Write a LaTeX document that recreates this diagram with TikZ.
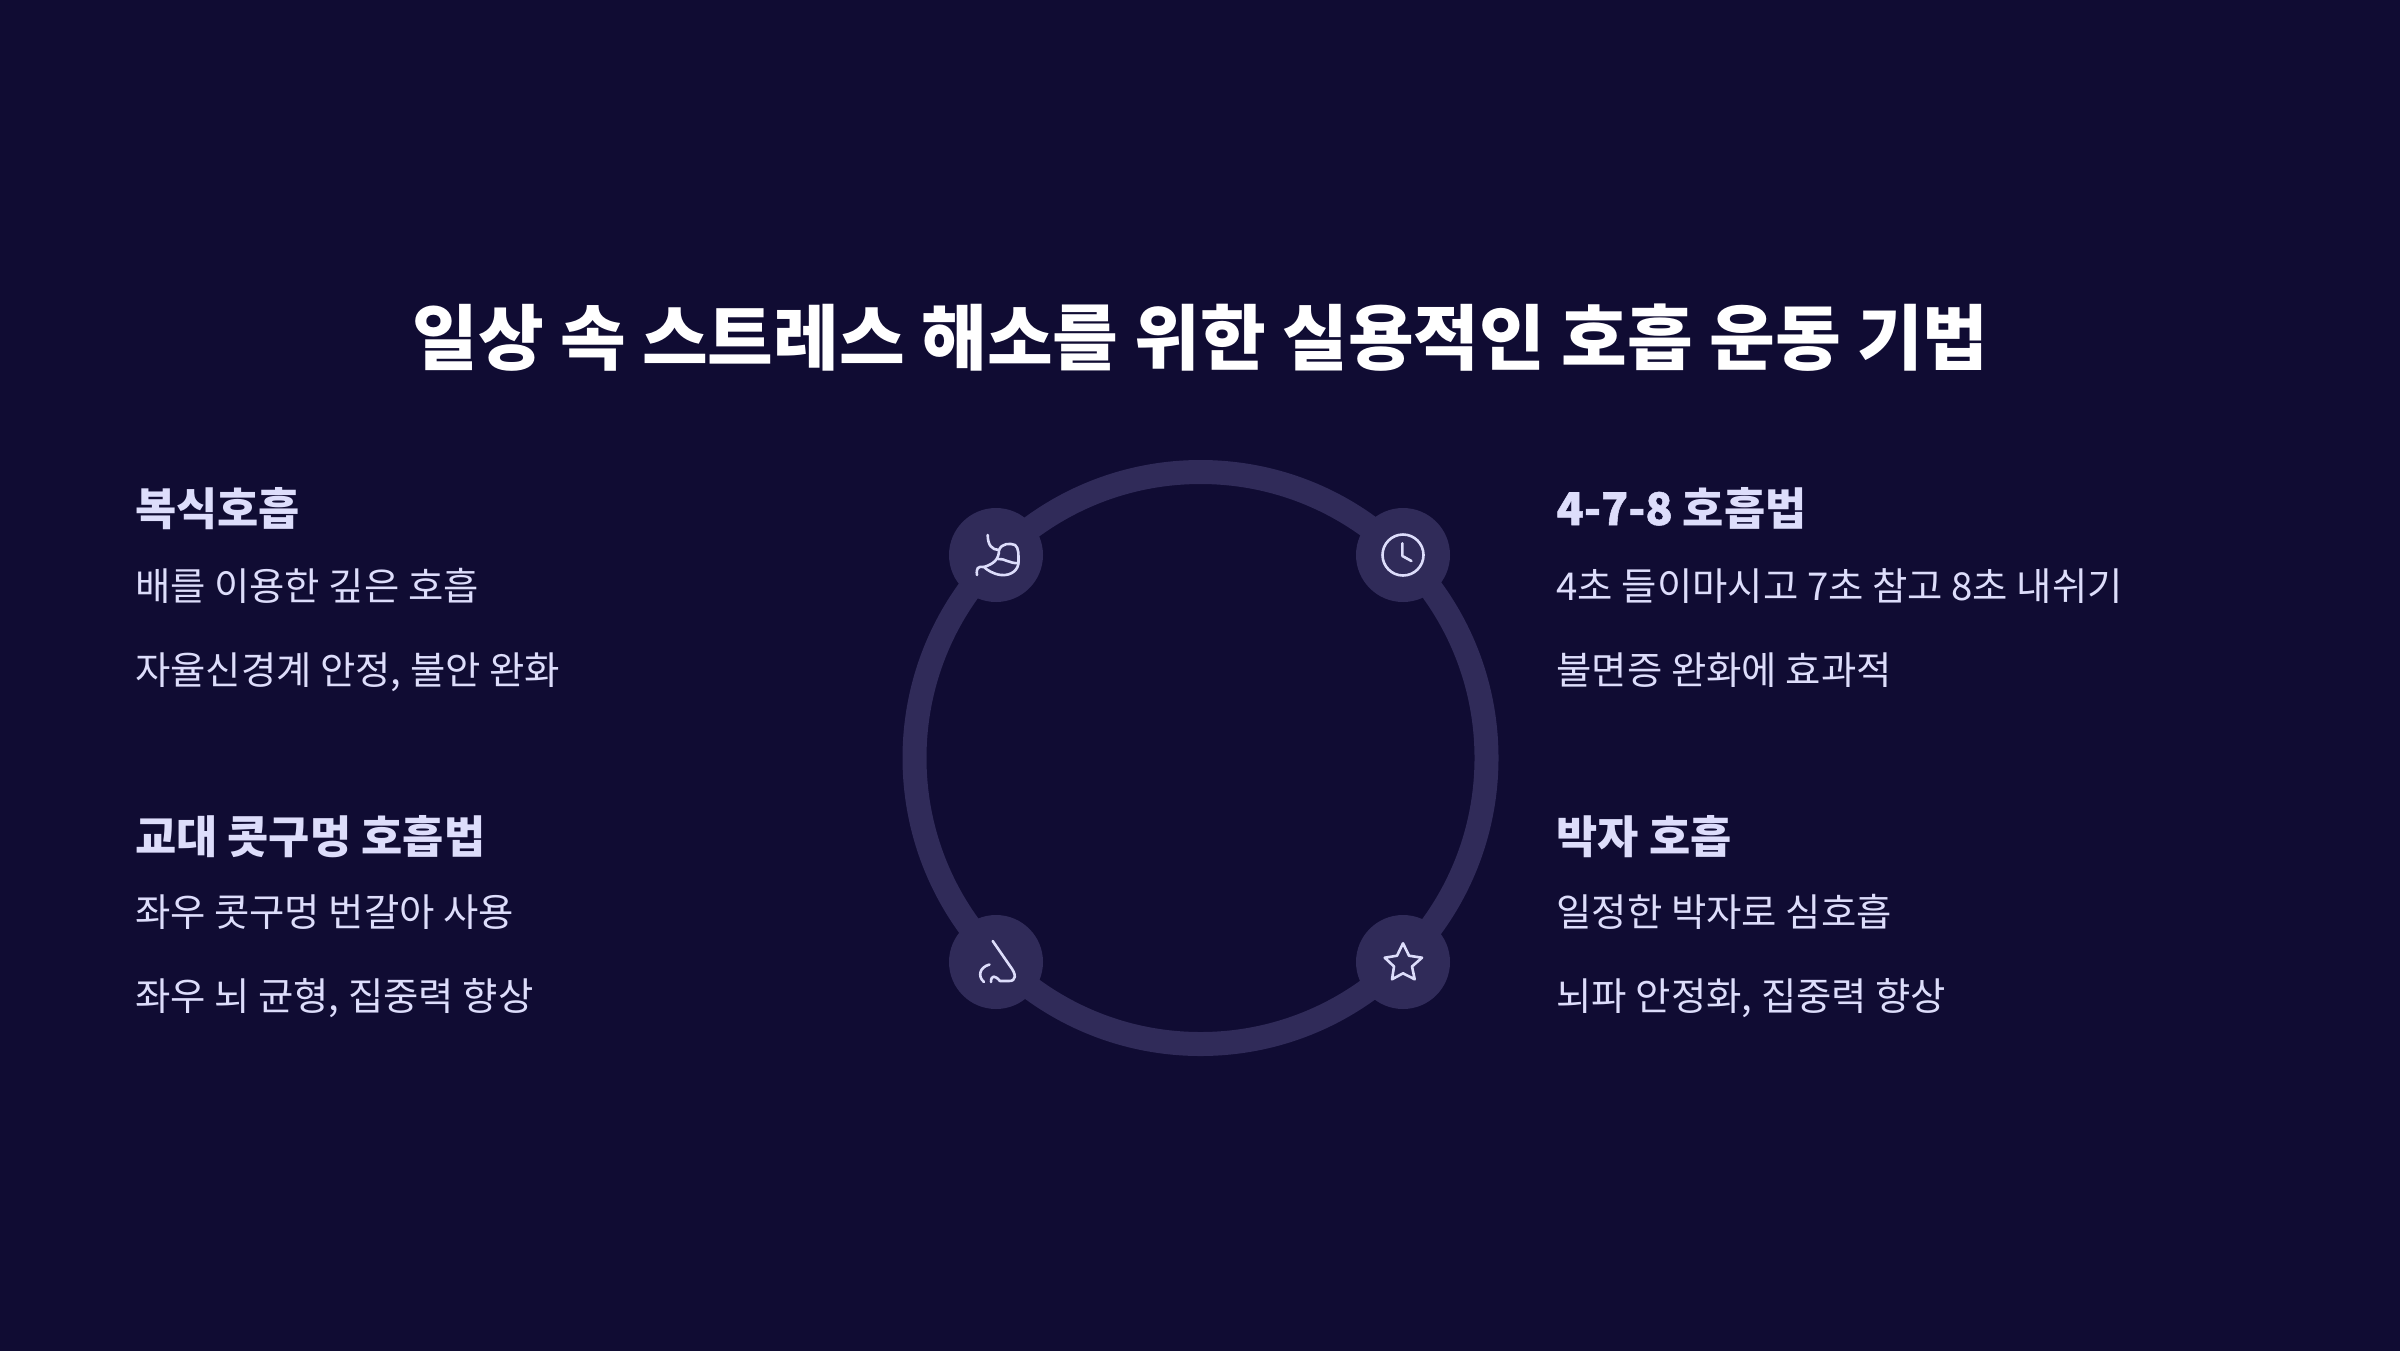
\documentclass[tikz,border=0pt]{standalone}
\usepackage{fontspec}
\setmainfont{Noto Sans CJK KR}
\newfontfamily\digitfont[FakeBold=1.2]{Noto Sans CJK KR}
\definecolor{bgblue}{HTML}{100C33}
\definecolor{ringblue}{HTML}{302B59}
\definecolor{paletext}{HTML}{DDDDFB}
\tikzset{
  titletext/.style={anchor=base, white, font=\fontsize{71.4}{72}\selectfont\bfseries},
  headtext/.style={anchor=base west, paletext, font=\fontsize{44.8}{45}\selectfont\bfseries},
  bodytext/.style={anchor=base west, paletext, font=\fontsize{38.4}{38}\selectfont},
  iconbase/.style={circle, fill=ringblue, minimum size=94pt, inner sep=0pt},
  iconline/.style={draw=paletext, line width=2.6pt, line cap=round, line join=round}
}
\begin{document}
\begin{tikzpicture}[x=1pt,y=-1pt]
\useasboundingbox (0,0) rectangle (2400,1350);
\fill[bgblue] (-5,-5) rectangle (2405,1355);
\node[titletext] (title) at (1200.5,364){일상 속 스트레스 해소를 위한 실용적인 호흡 운동 기법};
\node[circle, draw=ringblue, line width=24pt, minimum size=572pt, inner sep=0pt] (ring) at (1200.5,758){};
\node[iconbase] (stomach) at (996,555){};
\node[iconbase] (clock) at (1403,555){};
\node[iconbase] (nose) at (996,962){};
\node[iconbase] (star) at (1403,962){};
% stomach
\draw[iconline, shift={(stomach.center)}] (-8.3,-20) .. controls (-8.3,-10) and (-4,-5) .. (3,-5)
  .. controls (6,-12) and (14,-12) .. (19,-10) .. controls (23,-7) and (22.5,0) .. (22.5,7)
  .. controls (22.5,15) and (15,21) .. (5,20) .. controls (-3,19) and (-9,15) .. (-12,12)
  .. controls (-18,11) and (-20,13) .. (-19,20);
\draw[iconline, shift={(stomach.center)}] (3,-5) .. controls (3,5) and (-3,9) .. (-12,12);
\draw[iconline, shift={(stomach.center)}] (2,4) .. controls (8,3) and (14,9) .. (22.5,8);
% clock
\draw[iconline, shift={(clock.center)}] (0,0) circle (20.5pt);
\draw[iconline, shift={(clock.center)}] (-0.6,-11.7) -- (-0.6,1) -- (8.4,6);
% nose
\draw[iconline, shift={(nose.center)}] (-3.3,-21) -- (14,4) .. controls (21,13) and (20,19) .. (13,19)
  -- (4,19) .. controls (-1,13) and (-5,13) .. (-5,20);
\draw[iconline, shift={(nose.center)}] (-6.5,2.5) .. controls (-16,5) and (-19,14) .. (-12,20);
% star
\draw[iconline, shift={(star.center)}] (0,-18.7) -- (6,-6.3) -- (19,-4.3) -- (9,4.5) -- (11.7,17.3)
  -- (0,11.3) -- (-11,17.3) -- (-9,4.5) -- (-18.3,-4.3) -- (-6,-6.3) -- cycle;
% left column
\node[headtext] (headone) at (131.5,525){복식호흡};
\node[bodytext] (bodyonea) at (131.5,600){배를 이용한 깊은 호흡};
\node[bodytext] (bodyoneb) at (131.5,684){자율신경계 안정, 불안 완화};
\node[headtext] (headtwo) at (131.5,853){교대 콧구멍 호흡법};
\node[bodytext] (bodytwoa) at (131.5,926){좌우 콧구멍 번갈아 사용};
\node[bodytext] (bodytwob) at (131.5,1010){좌우 뇌 균형, 집중력 향상};
% right column
\node[headtext] (headthree) at (1553,525){{\digitfont 4-7-8} 호흡법};
\node[bodytext] (bodythreea) at (1553,600){4초 들이마시고 7초 참고 8초 내쉬기};
\node[bodytext] (bodythreeb) at (1553,684){불면증 완화에 효과적};
\node[headtext] (headfour) at (1553,853){박자 호흡};
\node[bodytext] (bodyfoura) at (1553,926){일정한 박자로 심호흡};
\node[bodytext] (bodyfourb) at (1553,1010){뇌파 안정화, 집중력 향상};
\end{tikzpicture}
\end{document}
